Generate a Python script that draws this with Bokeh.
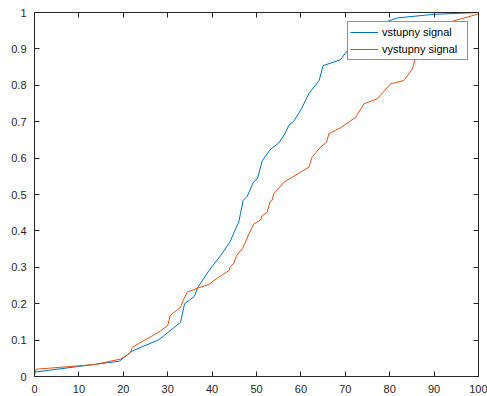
from bokeh.plotting import figure
from bokeh.models import LinearAxis, FixedTicker, Range1d, Legend, LegendItem
from bokeh.embed import file_html
from bokeh.resources import INLINE

# Empirical distribution curves of the input and output signals
x_in = [0, 19.1, 22.0, 28.0, 32.9, 33.8, 36.0, 36.8, 39.3, 41.9, 44.0, 45.3, 46.0,
        47.0, 47.9, 48.5, 49.3, 50.2, 51.3, 53.2, 55.0, 56.4, 57.3, 58.4, 60.1, 61.8,
        64.1, 65.0, 68.9, 70.5, 72.0, 74.0, 76.0, 77.9, 81.7, 89.9, 100]
y_in = [0.012, 0.042, 0.070, 0.101, 0.149, 0.200, 0.220, 0.245, 0.291, 0.332, 0.369,
        0.406, 0.424, 0.484, 0.495, 0.511, 0.534, 0.543, 0.593, 0.625, 0.641, 0.667,
        0.690, 0.701, 0.735, 0.777, 0.813, 0.854, 0.870, 0.896, 0.920, 0.945, 0.960,
        0.969, 0.985, 0.995, 1.0]

x_out = [0, 0.4, 13.7, 19.4, 21.6, 22.0, 28.0, 30.0, 30.6, 32.9, 33.5, 34.4, 37.0,
         39.3, 41.5, 43.8, 44.1, 44.9, 45.5, 46.8, 47.5, 48.3, 49.4, 50.9, 51.3, 52.4,
         53.0, 53.5, 53.9, 56.2, 59.9, 61.8, 62.5, 64.4, 65.8, 66.3, 68.9, 72.3, 74.2,
         77.2, 80.2, 83.2, 85.1, 85.8, 88.5, 91.4, 93.3, 95.9, 100]
y_out = [0.005, 0.020, 0.033, 0.048, 0.065, 0.080, 0.122, 0.140, 0.168, 0.190, 0.209,
         0.232, 0.244, 0.253, 0.273, 0.291, 0.302, 0.311, 0.332, 0.351, 0.369, 0.392,
         0.419, 0.430, 0.442, 0.451, 0.479, 0.484, 0.502, 0.534, 0.561, 0.575, 0.602,
         0.630, 0.644, 0.667, 0.683, 0.712, 0.749, 0.763, 0.804, 0.813, 0.845, 0.873,
         0.910, 0.951, 0.973, 0.982, 0.996]

series_names = ["vstupny signal", "vystupny signal"]

x_ticks = [0, 10, 20, 30, 40, 50, 60, 70, 80, 90, 100]
x_tick_labels = ["0", "10", "20", "30", "40", "50", "60", "70", "80", "90", "100"]
y_ticks = [0, 0.1, 0.2, 0.3, 0.4, 0.5, 0.6, 0.7, 0.8, 0.9, 1]
y_tick_labels = ["0", "0.1", "0.2", "0.3", "0.4", "0.5", "0.6", "0.7", "0.8", "0.9", "1"]

FONT = "Liberation Sans"
AXIS_COLOR = "#262626"

p = figure(frame_width=444, frame_height=364,
           x_range=Range1d(0, 100), y_range=Range1d(0, 1),
           output_backend="svg", toolbar_location=None,
           x_axis_location=None, y_axis_location=None,
           min_border_left=34, min_border_right=9,
           min_border_top=12, min_border_bottom=20)
p.background_fill_color = "white"
p.border_fill_color = "white"
p.outline_line_color = AXIS_COLOR
p.outline_line_width = 1
p.xgrid.visible = False
p.ygrid.visible = False


def style_axis(ax, ticks, labels, show_labels):
    ax.ticker = FixedTicker(ticks=ticks)
    ax.axis_line_color = AXIS_COLOR
    ax.major_tick_line_color = AXIS_COLOR
    ax.major_tick_in = 5
    ax.major_tick_out = 0
    ax.minor_tick_line_color = None
    ax.major_label_text_font = FONT
    ax.major_label_text_color = AXIS_COLOR
    ax.major_label_text_font_size = "11px"
    if show_labels:
        ax.major_label_overrides = {t: l for t, l in zip(ticks, labels)}
        ax.major_label_standoff = 8
    else:
        # box edges carry ticks only
        ax.major_label_overrides = {t: "" for t in ticks}
        ax.major_label_standoff = 0


bottom = LinearAxis()
style_axis(bottom, x_ticks, x_tick_labels, True)
p.add_layout(bottom, "below")
left = LinearAxis()
style_axis(left, y_ticks, y_tick_labels, True)
p.add_layout(left, "left")
top = LinearAxis()
style_axis(top, x_ticks, x_tick_labels, False)
p.add_layout(top, "above")
right = LinearAxis()
style_axis(right, y_ticks, y_tick_labels, False)
p.add_layout(right, "right")

r_in = p.line(x_in, y_in, line_color="#0072BD", line_width=1)
r_out = p.line(x_out, y_out, line_color="#D95319", line_width=1)

legend = Legend(items=[LegendItem(label=series_names[0], renderers=[r_in]),
                       LegendItem(label=series_names[1], renderers=[r_out])],
                location=(313, 316))
legend.border_line_color = AXIS_COLOR
legend.border_line_width = 1
legend.background_fill_color = "white"
legend.background_fill_alpha = 1
legend.label_text_font = FONT
legend.label_text_font_size = "11px"
legend.label_text_color = "#000000"
legend.glyph_width = 28
legend.glyph_height = 16
legend.label_height = 16
legend.label_width = 83
legend.label_standoff = 4
legend.padding = 2
legend.spacing = 1
legend.margin = 0
p.add_layout(legend, "center")

open("out.html", "w").write(file_html(p, INLINE))
